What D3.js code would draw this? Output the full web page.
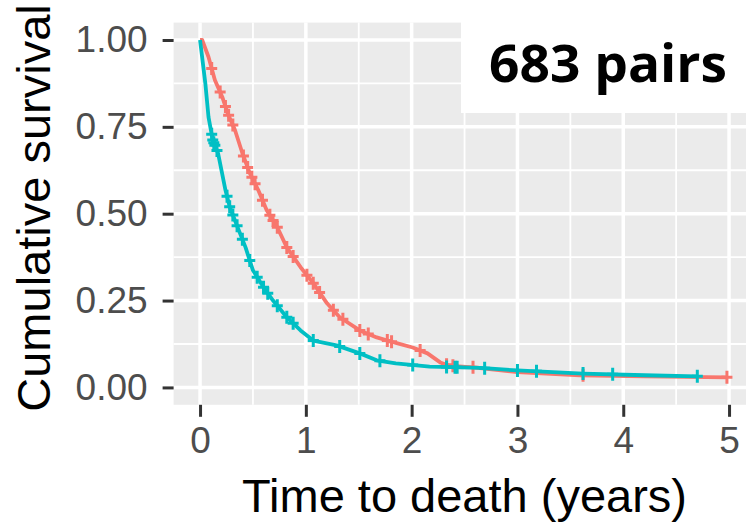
<!DOCTYPE html>
<html>
<head>
<meta charset="utf-8">
<script src="https://cdn.jsdelivr.net/npm/d3@7"></script>
<style>
  body { margin: 0; background: #fff; }
  svg { display: block; }
</style>
</head>
<body>
<script>
// survival curves (time in years, survival)
var redTimes = [0, 0.02, 0.08, 0.14, 0.21, 0.26, 0.33, 0.40, 0.47, 0.55, 0.63, 0.73, 0.82, 0.95, 1.07, 1.20, 1.32, 1.51, 1.67, 1.85, 2.01, 2.15, 2.27, 2.35, 2.58, 3.00, 3.59, 4.20, 4.98];
var redSurv  = [1.0, 1.0, 0.951, 0.885, 0.836, 0.79, 0.741, 0.674, 0.617, 0.568, 0.51, 0.461, 0.403, 0.346, 0.30, 0.242, 0.202, 0.164, 0.144, 0.128, 0.115, 0.098, 0.072, 0.063, 0.058, 0.044, 0.035, 0.032, 0.029];
var tealTimes = [0, 0.05, 0.08, 0.12, 0.17, 0.24, 0.28, 0.35, 0.43, 0.50, 0.60, 0.69, 0.82, 0.95, 1.07, 1.29, 1.51, 1.67, 1.85, 2.17, 2.65, 3.00, 3.62, 4.20, 4.70];
var tealSurv  = [1.0, 0.875, 0.778, 0.712, 0.674, 0.568, 0.52, 0.465, 0.403, 0.337, 0.288, 0.25, 0.202, 0.164, 0.135, 0.121, 0.098, 0.078, 0.069, 0.060, 0.056, 0.049, 0.040, 0.035, 0.032];

// censoring times
var redCensor = [0.11, 0.19, 0.24, 0.27, 0.31, 0.41, 0.45, 0.49, 0.52, 0.59, 0.66, 0.69, 0.73, 0.82, 0.88, 1.01, 1.07, 1.13, 1.26, 1.35, 1.51, 1.59, 1.77, 1.81, 2.08, 2.33, 2.39, 2.58, 3.62, 4.98];
var tealCensor = [0.11, 0.12, 0.13, 0.14, 0.16, 0.255, 0.28, 0.31, 0.35, 0.40, 0.47, 0.54, 0.60, 0.64, 0.73, 0.82, 0.88, 1.07, 1.32, 1.51, 1.70, 2.01, 2.33, 2.41, 2.43, 2.69, 3.00, 3.18, 3.62, 3.90, 4.70];

var xTicks = [0, 1, 2, 3, 4, 5];
var yTicks = [0, 0.25, 0.5, 0.75, 1];
var xMinor = [0.5, 1.5, 2.5, 3.5, 4.5];
var yMinor = [0.125, 0.375, 0.625, 0.875];

var W = 746, H = 527;
var svg = d3.select('body').append('svg').attr('width', W).attr('height', H);

var x = d3.scaleLinear().domain([-0.25, 5.25]).range([173.6, 755.5]);
var y = d3.scaleLinear().domain([-0.05, 1.05]).range([404.8, 22.6]);

// panel
svg.append('rect')
  .attr('x', x(-0.25)).attr('y', y(1.05))
  .attr('width', x(5.25) - x(-0.25)).attr('height', y(-0.05) - y(1.05))
  .attr('fill', '#EBEBEB');

var grid = svg.append('g').attr('stroke', '#fff');
grid.selectAll('.xm').data(xMinor).enter().append('line')
  .attr('x1', d => x(d)).attr('x2', d => x(d))
  .attr('y1', y(1.05)).attr('y2', y(-0.05)).attr('stroke-width', 1.8);
grid.selectAll('.ym').data(yMinor).enter().append('line')
  .attr('y1', d => y(d)).attr('y2', d => y(d))
  .attr('x1', x(-0.25)).attr('x2', x(5.25)).attr('stroke-width', 1.8);
grid.selectAll('.xM').data(xTicks).enter().append('line')
  .attr('x1', d => x(d)).attr('x2', d => x(d))
  .attr('y1', y(1.05)).attr('y2', y(-0.05)).attr('stroke-width', 3.5);
grid.selectAll('.yM').data(yTicks).enter().append('line')
  .attr('y1', d => y(d)).attr('y2', d => y(d))
  .attr('x1', x(-0.25)).attr('x2', x(5.25)).attr('stroke-width', 3.5);

// curves
function drawSeries(times, surv, censor, color) {
  var pts = times.map((t, i) => [t, surv[i]]);
  var line = d3.line().x(d => x(d[0])).y(d => y(d[1]));
  svg.append('path').datum(pts)
    .attr('d', line).attr('fill', 'none')
    .attr('stroke', color).attr('stroke-width', 3.8)
    .attr('stroke-linejoin', 'round');
  var onCurve = d3.scaleLinear().domain(times).range(surv);
  svg.append('g').selectAll('path').data(censor).enter().append('path')
    .attr('transform', d => 'translate(' + x(d) + ',' + y(onCurve(d)) + ')')
    .attr('d', 'M-5.5,0H5.5M0,-6.5V6.5')
    .attr('stroke', color).attr('stroke-width', 3).attr('fill', 'none');
}
drawSeries(redTimes, redSurv, redCensor, '#F8766D');
drawSeries(tealTimes, tealSurv, tealCensor, '#00BFC4');

// axes
var yAxis = svg.append('g').attr('transform', 'translate(' + x(-0.25) + ',0)')
  .call(d3.axisLeft(y).tickValues(yTicks).tickFormat(d3.format('.2f')).tickSize(11).tickPadding(15));
var xAxis = svg.append('g').attr('transform', 'translate(0,' + y(-0.05) + ')')
  .call(d3.axisBottom(x).tickValues(xTicks).tickFormat(d3.format('d')).tickSize(12).tickPadding(10));
[xAxis, yAxis].forEach(function(a) {
  a.select('.domain').remove();
  a.selectAll('.tick line').attr('stroke', '#333').attr('stroke-width', 3);
  a.selectAll('.tick text').attr('fill', '#4D4D4D')
    .style('font-family', 'Liberation Sans, Arial, sans-serif').style('font-size', '37px');
});

svg.append('text')
  .attr('x', x(2.5)).attr('y', 512)
  .attr('text-anchor', 'middle')
  .style('font-family', 'Liberation Sans, Arial, sans-serif').style('font-size', '47px')
  .text('Time to death (years)');
svg.append('text')
  .attr('transform', 'translate(50,208) rotate(-90)')
  .attr('text-anchor', 'middle')
  .style('font-family', 'Liberation Sans, Arial, sans-serif').style('font-size', '47px')
  .text('Cumulative survival');

// annotation box
svg.append('rect').attr('x', 461).attr('y', 0).attr('width', W - 461).attr('height', 113).attr('fill', '#fff');
svg.append('text')
  .attr('x', 489).attr('y', 82)
  .attr('textLength', 238).attr('lengthAdjust', 'spacingAndGlyphs')
  .style('font-family', 'Open Sans, sans-serif').style('font-weight', 'bold').style('font-size', '52px')
  .text('683 pairs');
</script>
</body>
</html>
